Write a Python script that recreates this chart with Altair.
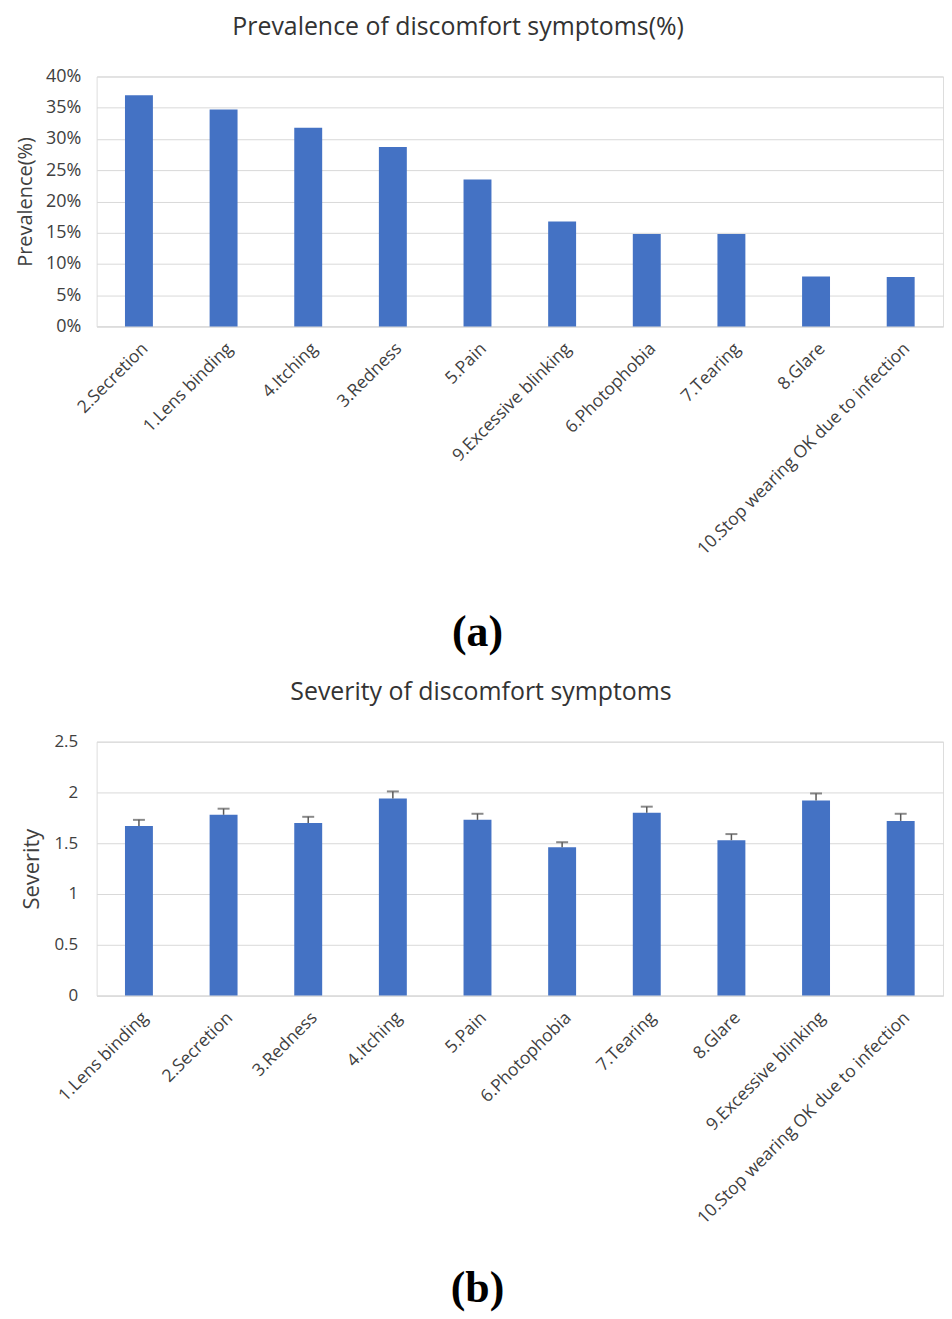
import altair as alt
import pandas as pd

# ---------------- data ----------------
prev_labels = ["2.Secretion", "1.Lens binding", "4.Itching", "3.Redness", "5.Pain",
               "9.Excessive blinking", "6.Photophobia", "7.Tearing", "8.Glare",
               "10.Stop wearing OK due to infection"]
prev_values = [37.0, 34.7, 31.8, 28.7, 23.5, 16.8, 14.8, 14.8, 8.0, 7.9]

sev_labels = ["1.Lens binding", "2.Secretion", "3.Redness", "4.Itching", "5.Pain",
              "6.Photophobia", "7.Tearing", "8.Glare", "9.Excessive blinking",
              "10.Stop wearing OK due to infection"]
sev_means = [1.67, 1.78, 1.70, 1.94, 1.73, 1.46, 1.80, 1.53, 1.92, 1.72]
sev_errors = [0.06, 0.06, 0.06, 0.07, 0.06, 0.05, 0.06, 0.06, 0.07, 0.07]

prev_ticks = [0, 5, 10, 15, 20, 25, 30, 35, 40]
sev_ticks = [0, 0.5, 1, 1.5, 2, 2.5]

# ---------------- styling ----------------
BLUE = "#4472C4"
GRID = "#d9d9d9"
TXT = "#404040"
FONT = "Open Sans"
W = 850

prev_df = pd.DataFrame({"symptom": prev_labels, "prevalence": prev_values})
sev_df = pd.DataFrame({"symptom": sev_labels, "severity": sev_means, "err": sev_errors})
sev_df["upper"] = sev_df["severity"] + sev_df["err"]


def x_axis(letter, title_y):
    return alt.Axis(
        title=letter, labelAngle=-45, labelFontSize=17.5, labelColor=TXT, labelFont=FONT,
        ticks=False, domainColor=GRID, labelPadding=13, labelLimit=500,
        titleFont="Liberation Serif", titleFontSize=44, titleFontWeight="bold",
        titleColor="black", titleX=382, titleY=title_y, titleBaseline="middle",
        titleAlign="center",
    )


def y_axis(title, values, label_size, label_padding, title_size, title_padding,
           label_expr=None, fmt=None):
    kw = dict(
        title=title, values=values, grid=True, gridColor=GRID, domain=False, ticks=False,
        labelFontSize=label_size, labelColor=TXT, labelFont=FONT, labelPadding=label_padding,
        titleFontSize=title_size, titleFont=FONT, titleFontWeight="normal", titleColor=TXT,
        titlePadding=title_padding,
    )
    if label_expr:
        kw["labelExpr"] = label_expr
    if fmt:
        kw["format"] = fmt
    return alt.Axis(**kw)


top = alt.Chart(prev_df).mark_bar(color=BLUE).encode(
    x=alt.X("symptom:N", sort=prev_labels,
            scale=alt.Scale(paddingInner=0.67, paddingOuter=0.335),
            axis=x_axis("(a)", 307)),
    y=alt.Y("prevalence:Q", scale=alt.Scale(domain=[0, 40], nice=False),
            axis=y_axis("Prevalence(%)", prev_ticks, 18, 16, 20, 10,
                        label_expr="datum.value + '%'")),
).properties(
    width=W, height=251,
    title=alt.TitleParams("Prevalence of discomfort symptoms(%)", fontSize=25, font=FONT,
                          fontWeight="normal", color="#333333", anchor="middle",
                          frame="group", dx=-62, offset=28),
)

xb = alt.X("symptom:N", sort=sev_labels,
           scale=alt.Scale(paddingInner=0.67, paddingOuter=0.335),
           axis=x_axis("(b)", 294))

bars = alt.Chart(sev_df).mark_bar(color=BLUE).encode(
    x=xb,
    y=alt.Y("severity:Q", scale=alt.Scale(domain=[0, 2.5], nice=False),
            axis=y_axis("Severity", sev_ticks, 17, 19, 22, 10, fmt="~g")),
)
err_rule = alt.Chart(sev_df).mark_rule(color="#595959", strokeWidth=1.5).encode(
    x=alt.X("symptom:N", sort=sev_labels), y="severity:Q", y2="upper:Q")
err_cap = alt.Chart(sev_df).mark_tick(color="#595959", thickness=2, size=12).encode(
    x=alt.X("symptom:N", sort=sev_labels), y="upper:Q")

bottom = alt.layer(bars, err_rule, err_cap).properties(
    width=W, height=255,
    title=alt.TitleParams("Severity of discomfort symptoms", fontSize=25, font=FONT,
                          fontWeight="normal", color="#333333", anchor="middle",
                          frame="group", dx=-39, offset=28),
)

chart = alt.vconcat(top, bottom, spacing=24).configure_view(stroke=None).configure(
    padding={"left": 7, "top": 3, "right": 0, "bottom": 0}
)

chart.save("out.html", embed_options={"renderer": "svg", "actions": False})
